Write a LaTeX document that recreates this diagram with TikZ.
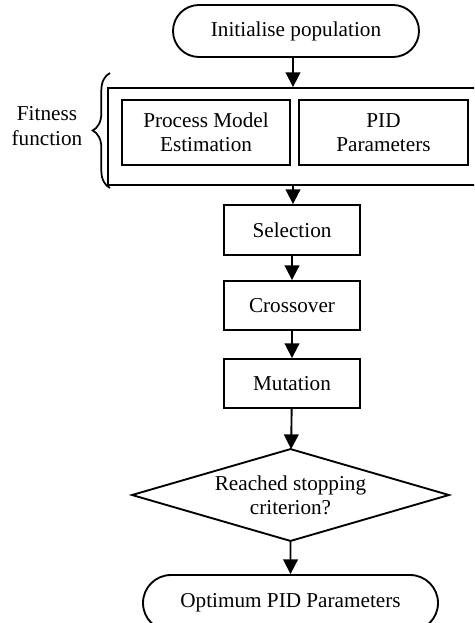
\documentclass[tikz,border=0pt]{standalone}
\usepackage{fontspec}
\setmainfont{Liberation Serif}
\usetikzlibrary{shapes.misc,arrows.meta,decorations.pathreplacing}
\begin{document}
\begin{tikzpicture}[x=0.75pt,y=-0.75pt,
  every node/.style={font=\fontsize{15.9}{18.3}\selectfont, align=center, line width=1.4pt, inner sep=0pt},
  term/.style={draw, rounded rectangle, minimum width=246*0.75pt, minimum height=52*0.75pt},
  box/.style={draw, rectangle, minimum width=136*0.75pt, minimum height=49*0.75pt},
  arr/.style={line width=1.4pt, -{Triangle[width=11pt,length=11pt]}},
  ]
\useasboundingbox (0,0) rectangle (474,623);
\clip (0,0) rectangle (474,623);
\node[term] (init) at (296,31) {Initialise population};
\node[draw, rectangle, minimum width=370*0.75pt, minimum height=97*0.75pt] (outer) at (293,136.5) {};
\node[draw, rectangle, minimum width=168*0.75pt, minimum height=65*0.75pt] (pme) at (206,132.5) {Process Model\\Estimation};
\node[draw, rectangle, minimum width=169*0.75pt, minimum height=65*0.75pt] (pid) at (383.5,132.5) {PID\\Parameters};
\node (fit) at (47,126) {Fitness\\function};
\coordinate (bt) at (110,188);
\coordinate (tp) at (110,73);
\draw[line width=1.3pt, decorate, decoration={brace, amplitude=13pt}] (bt) -- (tp);
\node[box, minimum height=50*0.75pt] (sel) at (292,230) {Selection};
\node[box] (cro) at (292,305.5) {Crossover};
\node[box] (mut) at (292,383.5) {Mutation};
\node[rectangle, minimum width=315*0.75pt, minimum height=90*0.75pt] (dec) at (290.5,495) {Reached stopping\\criterion?};
\draw[line width=1.4pt, line join=miter] (dec.north) -- (dec.east) -- (dec.south) -- (dec.west) -- cycle;
\node[term, minimum width=295*0.75pt, minimum height=56*0.75pt] (opt) at (290.5,603) {Optimum PID Parameters};
\draw[arr] (outer.north |- init.south) -- (outer.north);
\draw[arr] (outer.south) -- (outer.south |- sel.north);
\draw[arr] (sel) -- (cro);
\draw[arr] (cro) -- (mut);
\draw[arr] (mut) -- (dec);
\draw[arr] (dec) -- (opt);
\end{tikzpicture}
\end{document}
